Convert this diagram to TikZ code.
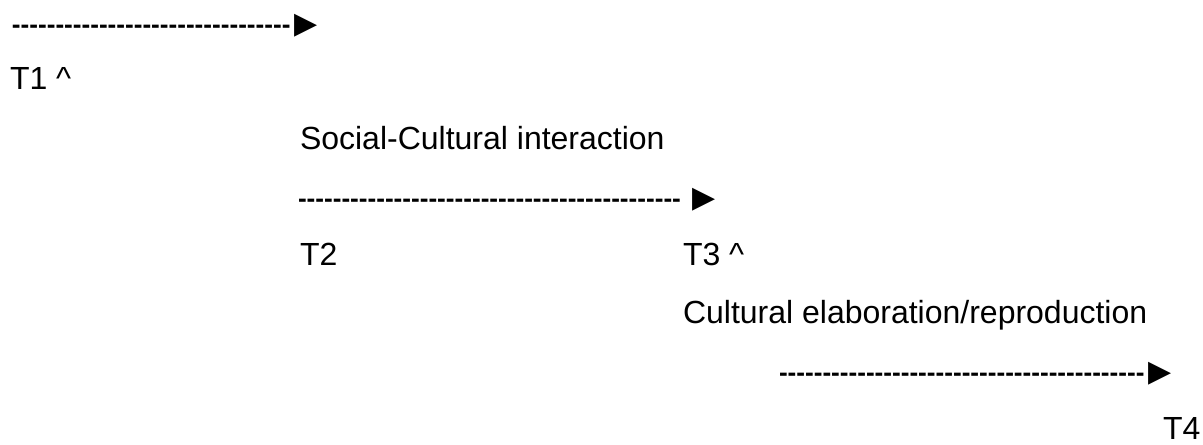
\documentclass[tikz,border=0pt]{standalone}
\usepackage{fontspec}
\setmainfont{Liberation Sans}
\newfontfamily\symfont{DejaVu Sans}
\newfontfamily\dashfont{Liberation Sans}
\newcount\dashcnt
\newcommand\dashrow[1]{{\dashfont\bfseries\fontsize{19.6}{22}\selectfont\dashcnt=0 \loop -\kern0pt\advance\dashcnt by 1 \ifnum\dashcnt<#1\repeat}}
\newcommand\tri{{\symfont\fontsize{22.5}{24}\selectfont ▶}}
\tikzset{
  lbl/.style={anchor=base west, inner sep=0pt, outer sep=0pt, font=\fontsize{24}{28}\selectfont},
  dashline/.style={anchor=base west, inner sep=0pt, outer sep=0pt, font=\fontsize{24}{28}\selectfont}
}
\begin{document}
\begin{tikzpicture}[x=0.75pt,y=-0.75pt]
\useasboundingbox (0,0) rectangle (1203,444);
\node[dashline] (d1) at (12,33) {\dashrow{32}\kern3pt\tri};
\node[lbl] (t1) at (10,89) {T1 \^{}};
\node[lbl] (sci) at (300,149) {Social-Cultural interaction};
\node[dashline] (d2) at (298,207) {\dashrow{44}\kern9pt\tri};
\node[lbl] (t2) at (300,265) {T2};
\node[lbl] (t3) at (683,265) {T3 \^{}};
\node[lbl] (cer) at (683,323) {Cultural elaboration/reproduction};
\node[dashline] (d3) at (779,381) {\dashrow{42}\kern3pt\tri};
\node[lbl] (t4) at (1163,439) {T4};
\end{tikzpicture}
\end{document}
